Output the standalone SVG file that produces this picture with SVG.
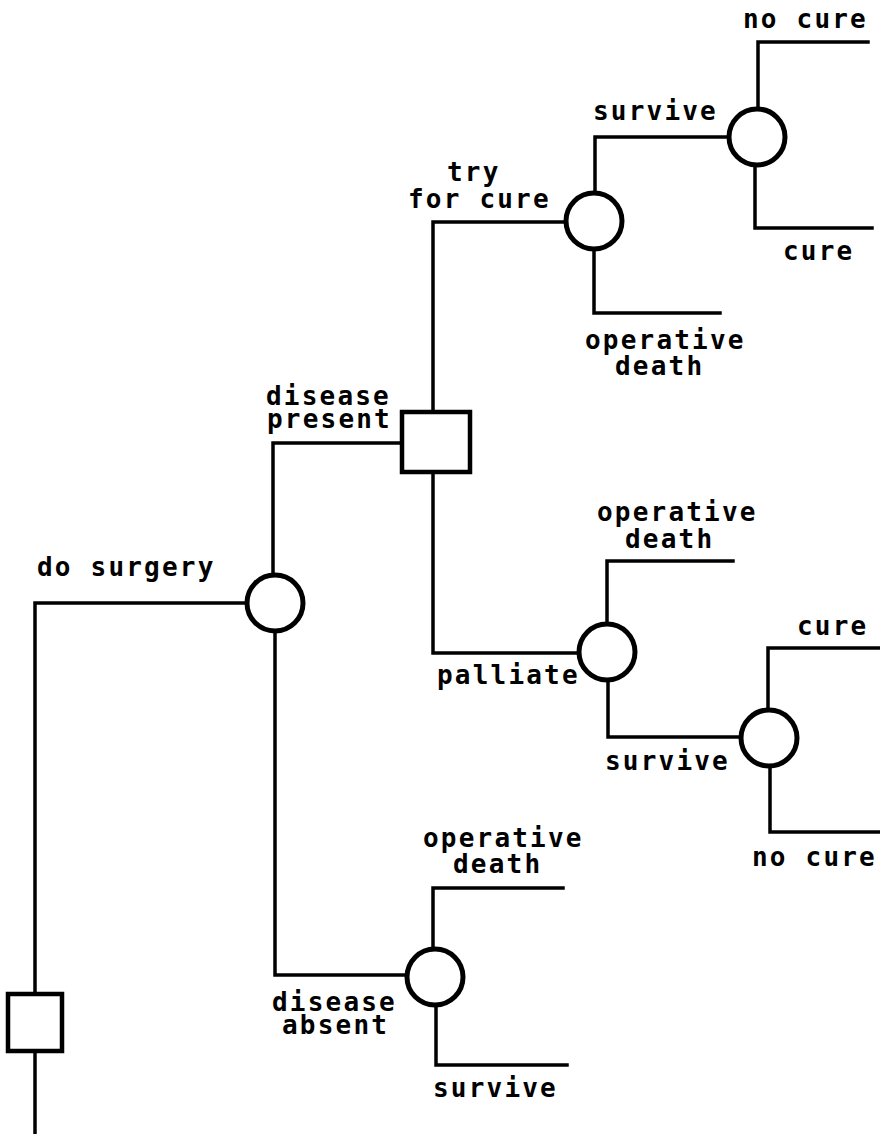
<svg xmlns="http://www.w3.org/2000/svg" width="880" height="1134" viewBox="0 0 880 1134">
<style>
.c{fill:none;stroke:#000;stroke-width:3.5;stroke-linejoin:miter;stroke-linecap:square}
.chance{fill:#fff;stroke:#000;stroke-width:5}
.dec{fill:#fff;stroke:#000;stroke-width:4.5}
text{font-family:"DejaVu Sans Mono","Liberation Mono",monospace;font-weight:bold;font-size:26px;letter-spacing:2.2px;fill:#000}
</style>
<rect width="880" height="1134" fill="#fff"/>
<g id="connectors">
<path class="c" d="M35,1133 V1052"/>
<path class="c" d="M35,993 V603 H247"/>
<path class="c" d="M273,575 V443 H401"/>
<path class="c" d="M275,632 V975 H406"/>
<path class="c" d="M433,411 V222 H565"/>
<path class="c" d="M433,473 V653 H578"/>
<path class="c" d="M595,192 V137 H728"/>
<path class="c" d="M594,250 V313 H720"/>
<path class="c" d="M758,108 V42 H868"/>
<path class="c" d="M755,166 V228 H872"/>
<path class="c" d="M607,623 V561 H733"/>
<path class="c" d="M608,681 V737 H740"/>
<path class="c" d="M768,709 V648 H880"/>
<path class="c" d="M770,767 V832 H880"/>
<path class="c" d="M433,948 V888 H563"/>
<path class="c" d="M436,1006 V1065 H567"/>
</g>
<g id="root-decision"><rect class="dec" x="8" y="994" width="54" height="57"/></g>
<g id="surgery-chance"><circle class="chance" cx="275" cy="603" r="28"/></g>
<g id="treatment-decision"><rect class="dec" x="402" y="412" width="68" height="60"/></g>
<g id="cure-chance"><circle class="chance" cx="594" cy="221" r="28"/></g>
<g id="cure-survive-chance"><circle class="chance" cx="757" cy="137" r="28"/></g>
<g id="palliate-chance"><circle class="chance" cx="607" cy="652" r="28"/></g>
<g id="palliate-survive-chance"><circle class="chance" cx="769" cy="738" r="28"/></g>
<g id="absent-chance"><circle class="chance" cx="435" cy="977" r="28"/></g>
<g id="labels">
<text x="743" y="28">no cure</text>
<text x="593" y="120">survive</text>
<text x="783" y="260">cure</text>
<text x="447" y="181">try<tspan x="408" y="208">for cure</tspan></text>
<text x="585" y="349">operative<tspan x="615" y="375">death</tspan></text>
<text x="266" y="405">disease<tspan x="267" y="428">present</tspan></text>
<text x="37" y="576">do surgery</text>
<text x="597" y="521">operative<tspan x="625" y="548">death</tspan></text>
<text x="437" y="684">palliate</text>
<text x="797" y="635">cure</text>
<text x="605" y="770">survive</text>
<text x="752" y="866">no cure</text>
<text x="423" y="847">operative<tspan x="453" y="873">death</tspan></text>
<text x="272" y="1011">disease<tspan x="282" y="1034">absent</tspan></text>
<text x="433" y="1097">survive</text>
</g>
</svg>
